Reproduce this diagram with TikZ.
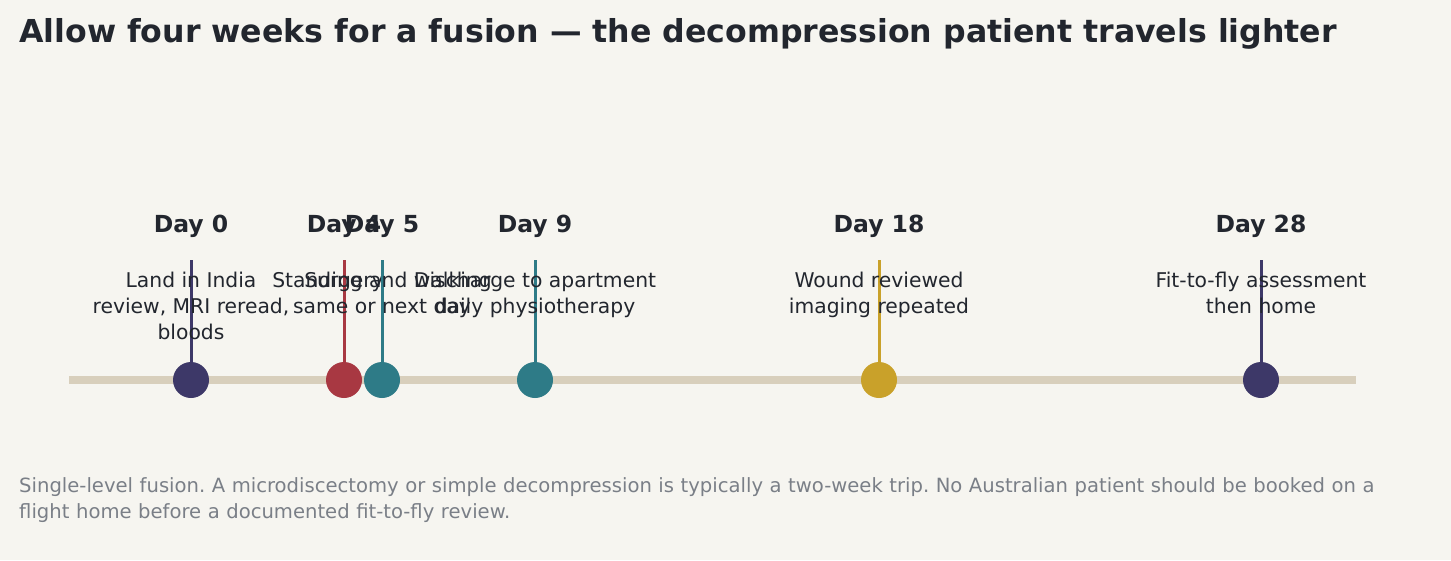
\documentclass[tikz,border=0pt]{standalone}
\usepackage{fontspec}
\setmainfont{DejaVu Sans}
\frenchspacing
\definecolor{bg}{HTML}{F6F5F0}
\definecolor{ink}{HTML}{22262E}
\definecolor{grayt}{HTML}{7A7F87}
\definecolor{axis}{HTML}{D8CFBC}
\definecolor{navy}{HTML}{3D3868}
\definecolor{red}{HTML}{A83842}
\definecolor{teal}{HTML}{2E7B87}
\definecolor{gold}{HTML}{C9A12A}
\begin{document}
\begin{tikzpicture}[x=1pt,y=-1pt,
 day/.style={font=\bfseries\fontsize{23.5}{26}\selectfont,text=ink,anchor=center},
 desc/.style={font=\fontsize{20.3}{26}\selectfont,text=ink,align=center,anchor=north},
 dot/.style={circle,minimum size=36,inner sep=0,fill=#1}]
\fill[bg] (0,0) rectangle (1451,560);
\useasboundingbox (0,0) rectangle (1451,560);
\node[anchor=west,font=\bfseries\fontsize{31.6}{34}\selectfont,text=ink,inner sep=0] (title) at (19,34) {Allow four weeks for a fusion — the decompression patient travels lighter};
\coordinate (a0) at (69,380); \coordinate (a1) at (1356,380);
\draw[axis,line width=8] (a0) -- (a1);
\foreach \n/\x/\c/\d/\t in {
 e0/191/navy/Day 0/{Land in India\\review, MRI reread,\\bloods},
 e4/344/red/Day 4/{Surgery},
 e5/382/teal/Day 5/{Standing and walking\\same or next day},
 e9/535/teal/Day 9/{Discharge to apartment\\daily physiotherapy},
 e18/879/gold/Day 18/{Wound reviewed\\imaging repeated},
 e28/1261/navy/Day 28/{Fit-to-fly assessment\\then home}}{
 \coordinate (\n top) at (\x,260);
 \node[dot=\c] (\n) at (\x,380) {};
 \draw[\c,line width=3] (\n top) -- (\n.center);
 \node[day] (\n d) at (\x,226) {\d};
 \node[desc] (\n t) at (\x,269) {\t};
}
\node[anchor=north west,align=left,text=grayt,font=\fontsize{19.6}{26}\selectfont,text width=1400,inner sep=0] (foot) at (19,477) {Single-level fusion. A microdiscectomy or simple decompression is typically a two-week trip. No Australian patient should be booked on a flight home before a documented fit-to-fly review.};
\end{tikzpicture}
\end{document}
